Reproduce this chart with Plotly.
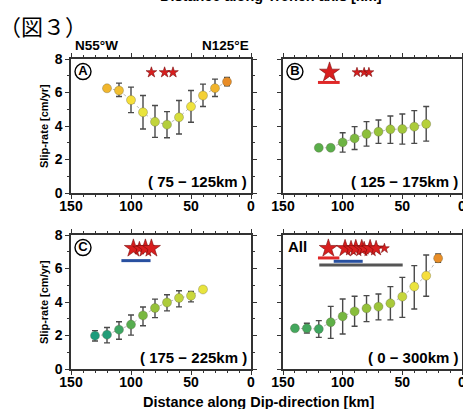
import plotly.graph_objects as go

# ---------------- data ----------------
# Panel A (75-125 km)
a_x = [120, 110, 100, 90, 80, 70, 60, 50, 40, 30, 20]
a_y = [6.25, 6.12, 5.55, 4.82, 4.25, 4.08, 4.52, 5.16, 5.82, 6.26, 6.64]
a_hi = [6.25, 6.56, 6.32, 5.82, 5.22, 4.86, 5.52, 6.12, 6.50, 6.80, 6.90]
a_lo = [6.25, 5.76, 4.80, 3.82, 3.32, 3.30, 3.52, 4.22, 5.16, 5.76, 6.40]

# Panel B (125-175 km)
b_x = [120, 110, 100, 90, 80, 70, 60, 50, 40, 30]
b_y = [2.70, 2.70, 3.02, 3.26, 3.52, 3.66, 3.80, 3.82, 3.96, 4.12]
b_hi = [2.70, 2.70, 3.60, 3.96, 4.26, 4.36, 4.60, 4.72, 4.92, 5.16]
b_lo = [2.70, 2.70, 2.44, 2.60, 2.80, 2.96, 2.96, 2.92, 2.96, 3.10]

# Panel C (175-225 km)
c_x = [130, 120, 110, 100, 90, 80, 70, 60, 50, 40]
c_y = [1.99, 2.05, 2.35, 2.65, 3.20, 3.64, 3.97, 4.24, 4.37, 4.75]
c_hi = [2.29, 2.48, 2.82, 3.22, 3.70, 4.17, 4.43, 4.67, 4.63, 4.75]
c_lo = [1.67, 1.56, 1.78, 2.02, 2.58, 3.07, 3.47, 3.71, 4.01, 4.75]

# Panel D (0-300 km, all)
d_x = [140, 130, 120, 110, 100, 90, 80, 70, 60, 50, 40, 30, 20]
d_y = [2.43, 2.43, 2.39, 2.79, 3.14, 3.44, 3.62, 3.72, 3.92, 4.32, 4.92, 5.57, 6.61]
d_hi = [2.43, 2.73, 2.89, 3.74, 4.18, 4.34, 4.38, 4.48, 4.92, 5.47, 6.17, 6.81, 6.87]
d_lo = [2.43, 2.15, 1.89, 1.83, 2.09, 2.55, 2.83, 2.93, 2.93, 3.08, 3.58, 4.34, 6.37]

# Earthquakes (distance along dip [km], magnitude)
eq_level = 7.2
a_eq_x = [83, 72, 65]
a_eq_m = [7.0, 7.0, 7.0]
b_eq_x = [111, 88, 82, 78]
b_eq_m = [8.0, 6.9, 6.9, 6.9]
c_eq_x = [98, 93, 88, 83]
c_eq_m = [7.8, 7.3, 7.8, 7.8]
d_eq_x = [112, 98, 93, 89, 84, 82, 77, 72, 65]
d_eq_m = [7.8, 7.7, 7.5, 7.7, 7.7, 7.3, 7.7, 7.5, 6.9]

# Rupture extents [km]
b_red = [120.7, 102.5]
b_red_y = 6.6
c_blue = [108.0, 83.7]
c_blue_y = 6.47
d_red = [120.7, 102.8]
d_red_y = 6.63
d_blue = [107.5, 83.2]
d_blue_y = 6.43
d_gray = [119.6, 49.7]
d_gray_y = 6.21

panel_ranges = ["( 75 − 125km )", "( 125 − 175km )", "( 175 − 225km )", "( 0 − 300km )"]

# ---------------- figure ----------------
W, H = 463, 409
FONT = "Liberation Sans"
colorscale = [
    [0.00, "#1e9c7c"],
    [0.14, "#5aae4a"],
    [0.30, "#8cbe3a"],
    [0.42, "#b5cf3b"],
    [0.55, "#e8e43e"],
    [0.70, "#f6e23c"],
    [0.84, "#f2bb2e"],
    [0.92, "#e98f28"],
    [1.00, "#e07020"],
]

fig = go.Figure()

panels = [
    (a_x, a_y, a_hi, a_lo, a_eq_x, a_eq_m),
    (b_x, b_y, b_hi, b_lo, b_eq_x, b_eq_m),
    (c_x, c_y, c_hi, c_lo, c_eq_x, c_eq_m),
    (d_x, d_y, d_hi, d_lo, d_eq_x, d_eq_m),
]

for i, (xs, ys, hi, lo, ex, em) in enumerate(panels):
    sfx = "" if i == 0 else str(i + 1)
    xa, ya = "x" + sfx, "y" + sfx
    ep = [h - v for h, v in zip(hi, ys)]
    emn = [v - l for v, l in zip(ys, lo)]
    # connecting dotted line
    fig.add_trace(go.Scatter(x=xs, y=ys, mode="lines", xaxis=xa, yaxis=ya,
                             line=dict(color="#b8b8b8", width=1, dash="dot"),
                             showlegend=False, hoverinfo="skip"))
    fig.add_trace(go.Scatter(
        x=xs, y=ys, mode="markers", xaxis=xa, yaxis=ya, showlegend=False,
        error_y=dict(type="data", array=ep, arrayminus=emn, symmetric=False,
                     color="#4a4a4a", thickness=1.4, width=3),
        marker=dict(size=9, color=ys, colorscale=colorscale, cmin=2, cmax=7,
                    opacity=1,
                    line=dict(color="rgba(90,90,60,0.55)", width=0.6))))
    # earthquakes
    sizes = [8 + (m - 7.0) * 7 for m in em]
    fig.add_trace(go.Scatter(
        x=ex, y=[eq_level] * len(ex), mode="markers", xaxis=xa, yaxis=ya,
        showlegend=False,
        marker=dict(symbol="star", size=sizes, color="#d81e1e", opacity=1,
                    line=dict(color="#7a0c0c", width=0.6))))

# rupture bars
def bar(xr, yv, color, sfx):
    fig.add_trace(go.Scatter(x=xr, y=[yv, yv], mode="lines", xaxis="x" + sfx,
                             yaxis="y" + sfx, showlegend=False,
                             line=dict(color=color, width=3)))

bar(b_red, b_red_y, "#e02828", "2")
bar(c_blue, c_blue_y, "#2850a0", "3")
bar(d_gray, d_gray_y, "#555555", "4")
bar(d_red, d_red_y, "#e02828", "4")
bar(d_blue, d_blue_y, "#2850a0", "4")

# circled panel letters
for sfx, letter in [("", "A"), ("2", "B"), ("3", "C")]:
    fig.add_trace(go.Scatter(
        x=[140], y=[7.25], mode="markers+text", xaxis="x" + sfx, yaxis="y" + sfx,
        text=[letter], textposition="middle center", showlegend=False,
        textfont=dict(family=FONT, size=13, color="black", weight="bold"),
        marker=dict(symbol="circle-open", size=16, color="black",
                    line=dict(width=1.4, color="black"))))

# axes
xd_left = [71 / W, 251 / W]
xd_right = [283 / W, 462 / W]
yd_top = [1 - 193 / H, 1 - 59 / H]
yd_bot = [1 - 369 / H, 1 - 235 / H]

tickfont = dict(family=FONT, size=14, color="black", weight="bold")

def xaxis(domain, anchor):
    return dict(domain=domain, anchor=anchor, range=[150, 0],
                tickvals=[150, 100, 50, 0], ticks="outside", ticklen=4,
                tickwidth=1.2, tickcolor="#333", showline=True,
                linecolor="#333", linewidth=1.5, mirror="allticks",
                showgrid=False, zeroline=False, tickfont=tickfont,
                automargin=False, ticklabeloverflow="allow",
                ticklabelstandoff=-5,
                minor=dict(dtick=10, tick0=0, ticks="outside", ticklen=2.5,
                           tickwidth=1, tickcolor="#333", showgrid=False))

def yaxis(domain, anchor, labels):
    return dict(domain=domain, anchor=anchor, range=[0, 8],
                tickvals=[0, 2, 4, 6, 8], ticks="outside", ticklen=4,
                tickwidth=1.2, tickcolor="#333", showline=True,
                linecolor="#333", linewidth=1.5, mirror="allticks",
                showgrid=False, zeroline=False, tickfont=tickfont,
                showticklabels=labels, automargin=False,
                minor=dict(dtick=1, tick0=0, ticks="outside", ticklen=2.5,
                           tickwidth=1, tickcolor="#333", showgrid=False))

annotations = []
def ann(text, x, y, size, xanchor="center", yanchor="middle", angle=0,
        family=FONT, bold=True):
    annotations.append(dict(text=text, x=x / W, y=1 - y / H, xref="paper",
                            yref="paper", showarrow=False, xanchor=xanchor,
                            yanchor=yanchor, textangle=angle,
                            font=dict(family=family, size=size, color="black",
                                      weight="bold" if bold else "normal")))

ann("（図３）", -3, 25, 22, xanchor="left", family="Noto Sans CJK JP", bold=False)
ann("Distance along Trench axis [km]", 271, -4, 14.5)
ann("N55°W", 73, 46, 13.5, xanchor="left")
ann("N125°E", 251, 46, 13.5, xanchor="right")
ann("Slip-rate [cm/yr]", 44, 126, 11, angle=-90)
ann("Slip-rate [cm/yr]", 44, 302, 11, angle=-90)
ann(panel_ranges[0], 248.5, 181, 15, xanchor="right")
ann(panel_ranges[1], 459.5, 181, 15, xanchor="right")
ann(panel_ranges[2], 248.5, 357.5, 15, xanchor="right")
ann(panel_ranges[3], 459.5, 357.5, 15, xanchor="right")
ann("All", 286, 247, 15, xanchor="left")
ann("Distance along Dip-direction [km]", 258, 401.5, 14.5)

fig.update_layout(
    width=W, height=H,
    margin=dict(l=0, r=0, t=0, b=0, pad=0, autoexpand=False),
    paper_bgcolor="white", plot_bgcolor="white",
    xaxis=xaxis(xd_left, "y"), yaxis=yaxis(yd_top, "x", True),
    xaxis2=xaxis(xd_right, "y2"), yaxis2=yaxis(yd_top, "x2", False),
    xaxis3=xaxis(xd_left, "y3"), yaxis3=yaxis(yd_bot, "x3", True),
    xaxis4=xaxis(xd_right, "y4"), yaxis4=yaxis(yd_bot, "x4", False),
    annotations=annotations, showlegend=False,
)

fig.write_html("out.html",
               config={"displayModeBar": False},
               post_script="document.body.style.margin='0';"
                           "document.body.style.padding='0';"
                           "document.body.style.overflow='hidden';")
